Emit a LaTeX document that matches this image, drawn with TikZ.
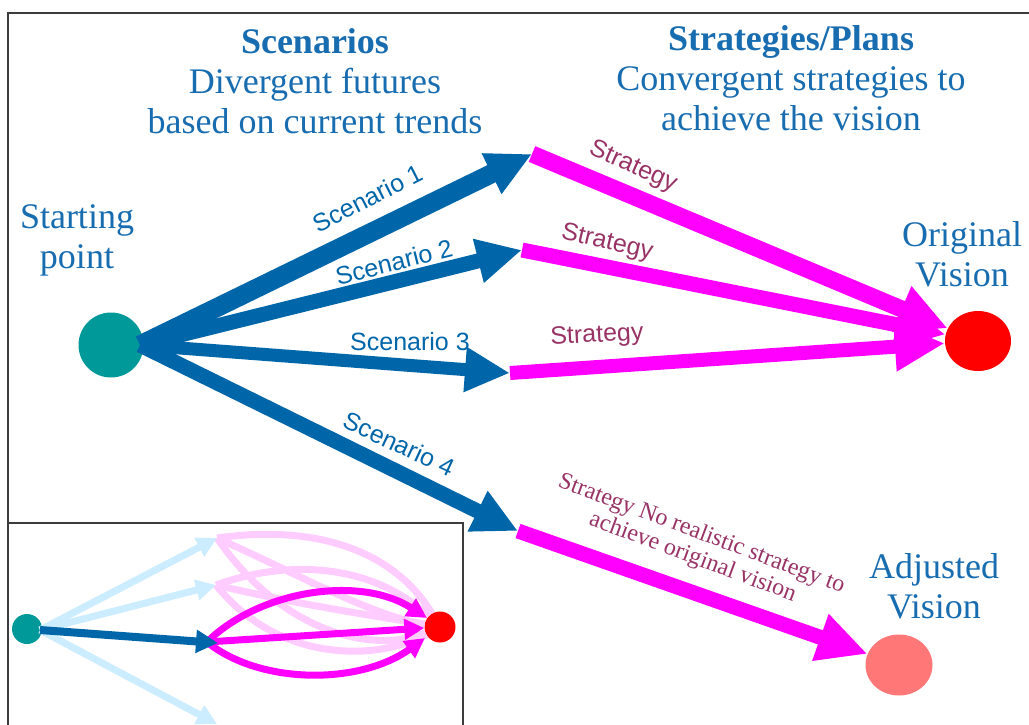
\documentclass[tikz,border=0pt]{standalone}
\usepackage{fontspec}
\setmainfont{Liberation Serif}
\setsansfont{Liberation Sans}
\usetikzlibrary{arrows.meta,shapes.geometric}
\definecolor{arrblue}{RGB}{0,102,170}
\definecolor{txtblue}{RGB}{24,108,176}
\definecolor{tealc}{RGB}{0,153,153}
\definecolor{salmonc}{RGB}{255,119,119}
\definecolor{stratc}{RGB}{153,51,102}
\definecolor{lblue}{RGB}{204,236,255}
\definecolor{lpink}{RGB}{255,204,255}
\definecolor{magc}{RGB}{255,0,255}
\definecolor{framec}{RGB}{60,60,60}
\tikzset{
  barrow/.style={draw=arrblue, -{Triangle[length=45pt,width=42pt]}},
  marrow/.style={draw=magc, -{Triangle[length=50pt,width=46pt]}},
  heading/.style={align=center, text=txtblue, font=\fontsize{36}{40}\selectfont},
  scenlbl/.style={text=arrblue, font=\sffamily\fontsize{25}{28}\selectfont, inner sep=0},
  stratlbl/.style={text=stratc, font=\sffamily\fontsize{25}{28}\selectfont, inner sep=0},
  dot/.style={circle, inner sep=0},
  lbarrow/.style={draw=lblue, line width=7pt, -{Triangle[length=20pt,width=20pt]}},
  dbarrow/.style={draw=arrblue, line width=8pt, -{Triangle[length=22pt,width=22pt]}},
  lpline/.style={draw=lpink, line width=7pt},
  smarrow/.style={draw=magc, line width=7pt, -{Triangle[length=20pt,width=20pt]}}
}
\begin{document}
\begin{tikzpicture}[x=1pt,y=-1pt]
\useasboundingbox (0,0) rectangle (1029,724);
\fill[white] (0,0) rectangle (1029,724);
% frame
\draw[framec, line width=2pt] (8,724) -- (8,13) -- (1029,13);

% headings
\node[heading] (hd1) at (315,81) {\textbf{Scenarios}\\Divergent futures\\based on current trends};
\node[heading] (hd2) at (791,78) {\textbf{Strategies/Plans}\\Convergent strategies to\\achieve the vision};
\node[heading] (sp) at (77,240) {Starting\\point};
\node[heading] (ov) at (962,254) {Original\\Vision};
\node[heading] (av) at (934,586) {Adjusted\\Vision};

% circles
\node[dot, fill=tealc, minimum size=65pt] (start) at (111,345) {};
\node[ellipse, fill=red, inner sep=0, minimum width=66pt, minimum height=60pt] (orig) at (978,341) {};
\node[ellipse, fill=salmonc, inner sep=0, minimum width=67pt, minimum height=61pt] (adj) at (899,665) {};

\coordinate (s1) at (532,154);
\coordinate (s2) at (522,250);
\coordinate (s3) at (510,373);
\coordinate (s4) at (518,531);
\coordinate (st) at (140,345);

% magenta strategies
\draw[marrow, line width=17pt] (s1) -- (orig);
\draw[marrow, line width=15pt] (s2) -- (orig);
\draw[marrow, line width=14pt] (s3) -- (orig);
\draw[marrow, line width=15pt] (s4) -- (adj);

% blue scenarios
\draw[barrow, line width=19pt] (st) -- (s1);
\draw[barrow, line width=15pt] (st) -- (s2);
\draw[barrow, line width=13pt] (st) -- (s3);
\draw[barrow, line width=15pt] (st) -- (s4);

% labels
\node[scenlbl, rotate=27] (l1) at (368,198) {Scenario 1};
\node[scenlbl, rotate=14] (l2) at (394,262) {Scenario 2};
\node[scenlbl, rotate=0] (l3) at (410,342) {Scenario 3};
\node[scenlbl, rotate=-25] (l4) at (399,444) {Scenario 4};
\node[stratlbl, rotate=-24] (t1) at (633,167) {Strategy};
\node[stratlbl, rotate=-13] (t2) at (607,243) {Strategy};
\node[stratlbl, rotate=3] (t3) at (597,336) {Strategy};
\node[text=stratc, rotate=-20.5, align=center, inner sep=0, font=\fontsize{24}{25}\selectfont] (t4) at (697,546) {Strategy No realistic strategy to\\achieve original vision};

% inset
\draw[framec, line width=2pt, fill=white] (8,740) -- (8,523) -- (463,523) -- (463,740);
\node[dot, fill=tealc, minimum size=30pt] (istart) at (27,629) {};
\node[dot, fill=red, minimum size=31pt] (iend) at (440,627) {};
\coordinate (ia) at (217,538);
\coordinate (ib) at (216,585);
\coordinate (ic) at (217,724);
\coordinate (id) at (218,643);
\coordinate (ie) at (207,642);
\coordinate (ist) at (40,630);
\coordinate (iu) at (427,618);
\coordinate (il) at (425,638);
% pink faded strategies
\draw[lpline] (ia) .. controls (330,522) and (400,560) .. (iend);
\draw[lpline] (ia) .. controls (300,575) and (370,615) .. (iend);
\draw[lpline] (ia) .. controls (280,630) and (370,655) .. (iend);
\draw[lpline] (ib) .. controls (300,555) and (380,570) .. (iend);
\draw[lpline] (ib) .. controls (300,605) and (370,615) .. (iend);
\draw[lpline] (ib) .. controls (280,665) and (380,660) .. (iend);
% light blue scenarios
\draw[lbarrow] (ist) -- (ia);
\draw[lbarrow] (ist) -- (ib);
\draw[lbarrow] (ist) -- (ic);
% magenta strategies
\draw[smarrow] (ie) .. controls (260,590) and (360,575) .. (iu);
\draw[smarrow] (ie) -- (iend);
\draw[smarrow] (ie) .. controls (260,685) and (360,685) .. (il);
\draw[dbarrow] (ist) -- (id);
\end{tikzpicture}
\end{document}
